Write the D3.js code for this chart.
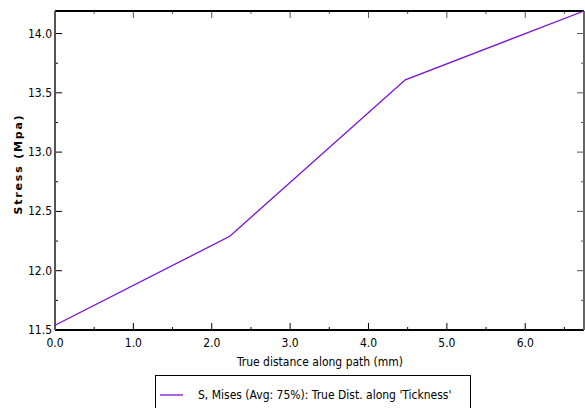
<!DOCTYPE html>
<html>
<head>
<meta charset="utf-8">
<script src="https://cdn.jsdelivr.net/npm/d3@7"></script>
<style>
  body { margin: 0; background: #fff; }
  svg text { font-family: "DejaVu Sans Condensed", "Liberation Sans Narrow", sans-serif; }
</style>
</head>
<body>
<svg width="585" height="408"></svg>
<script>
// path distance (mm) and von Mises stress (MPa)
var distance = [0, 2.23, 4.47, 6.75];
var stress = [11.54, 12.29, 13.61, 14.19];
var xTicks = [0, 1, 2, 3, 4, 5, 6];
var yTicks = [11.5, 12.0, 12.5, 13.0, 13.5, 14.0];
var legendLabel = "S, Mises (Avg: 75%): True Dist. along 'Tickness'";

var svg = d3.select("svg");
var m = { left: 55, right: 584, top: 11, bottom: 330 };

var x = d3.scaleLinear().domain([0, 6.75]).range([m.left, m.right]);
var y = d3.scaleLinear().domain([11.5, 14.19]).range([m.bottom, m.top]);

var xMinor = d3.range(0.5, 6.75, 1);
var yMinor = d3.range(11.75, 14.19, 0.5);

// ticks pointing into the plot on all four sides
var g = svg.append("g");
function ticks(vals, len) {
  vals.forEach(function(v) {
    g.append("line").attr("x1", x(v)).attr("x2", x(v)).attr("y1", m.bottom).attr("y2", m.bottom - len).attr("stroke", "#000");
    g.append("line").attr("x1", x(v)).attr("x2", x(v)).attr("y1", m.top).attr("y2", m.top + len).attr("stroke", "#555");
  });
}
ticks(xTicks, 7);
ticks(xMinor, 3);
function yt(vals, len) {
  vals.forEach(function(v) {
    g.append("line").attr("y1", y(v)).attr("y2", y(v)).attr("x1", m.left).attr("x2", m.left + len).attr("stroke", "#000");
    g.append("line").attr("y1", y(v)).attr("y2", y(v)).attr("x1", m.right).attr("x2", m.right - len).attr("stroke", "#555");
  });
}
yt(yTicks, 7);
yt(yMinor, 3);

// frame
svg.append("line").attr("x1", m.left).attr("x2", m.right).attr("y1", m.top).attr("y2", m.top).attr("stroke", "#000").attr("stroke-width", 2);
svg.append("line").attr("x1", m.left).attr("x2", m.right).attr("y1", m.bottom).attr("y2", m.bottom).attr("stroke", "#000").attr("stroke-width", 2);
svg.append("line").attr("x1", m.left).attr("x2", m.left).attr("y1", m.top).attr("y2", m.bottom).attr("stroke", "#555").attr("stroke-width", 2);
svg.append("line").attr("x1", m.right).attr("x2", m.right).attr("y1", m.top).attr("y2", m.bottom).attr("stroke", "#666").attr("stroke-width", 2);

// tick labels
svg.selectAll(".xl").data(xTicks).enter().append("text")
  .attr("x", function(d) { return x(d); })
  .attr("y", m.bottom + 17)
  .attr("text-anchor", "middle")
  .attr("font-size", 12)
  .text(function(d) { return d.toFixed(1); });

svg.selectAll(".yl").data(yTicks).enter().append("text")
  .attr("x", m.left - 3)
  .attr("y", function(d) { return y(d) + 4; })
  .attr("text-anchor", "end")
  .attr("font-size", 12)
  .text(function(d) { return d.toFixed(1); });

// axis titles
svg.append("text")
  .attr("x", 320).attr("y", 366)
  .attr("text-anchor", "middle")
  .attr("font-size", 12)
  .text("True distance along path (mm)");

svg.append("text")
  .attr("transform", "translate(22,164) rotate(-90)")
  .attr("text-anchor", "middle")
  .attr("font-size", 11)
  .attr("font-weight", "bold")
  .style("font-family", "'DejaVu Sans', sans-serif")
  .style("letter-spacing", "1.8px")
  .text("Stress (Mpa)");

// data line
var line = d3.line()
  .x(function(d, i) { return x(distance[i]); })
  .y(function(d) { return y(d); });

svg.append("path")
  .datum(stress)
  .attr("d", line)
  .attr("fill", "none")
  .attr("stroke", "#7a0fd6")
  .attr("stroke-width", 1.3);

// legend
var lg = svg.append("g");
lg.append("rect").attr("x", 155.5).attr("y", 375.5).attr("width", 315).attr("height", 40)
  .attr("fill", "#fff").attr("stroke", "#000");
lg.append("line").attr("x1", 160).attr("x2", 183).attr("y1", 395).attr("y2", 395)
  .attr("stroke", "#7a0fd6").attr("stroke-width", 1.3);
lg.append("text").attr("x", 198).attr("y", 399).attr("font-size", 12).text(legendLabel);
</script>
</body>
</html>
